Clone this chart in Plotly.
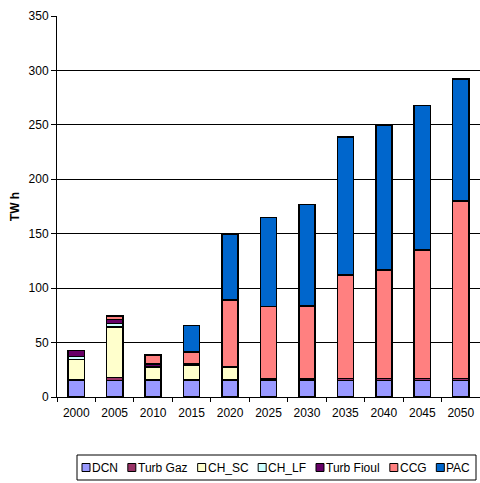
import plotly.graph_objects as go

years = ["2000", "2005", "2010", "2015", "2020", "2025", "2030", "2035", "2040", "2045", "2050"]
DCN = [15, 15, 15, 15, 15, 15, 15, 15, 15, 15, 15]
TURB_GAZ = [1, 3, 1, 0.5, 0.5, 1.5, 1.5, 2, 2, 2, 2]
CH_SC = [18.5, 46.5, 11, 14, 12, 0, 0, 0, 0, 0, 0]
CH_LF = [2.5, 3, 1, 0.5, 0, 0, 0, 0, 0, 0, 0]
TURB_FIOUL = [5.5, 3.5, 2.5, 0.5, 0, 0, 0, 0, 0, 0, 0]
CCG = [0, 3.5, 8, 11, 61.5, 66.5, 67, 95, 99.5, 118, 163]
PAC = [0, 0, 0, 24, 60.5, 82, 93.5, 127, 133, 133, 112]

names = ["DCN", "Turb Gaz", "CH_SC", "CH_LF", "Turb Fioul", "CCG", "PAC"]
values = [DCN, TURB_GAZ, CH_SC, CH_LF, TURB_FIOUL, CCG, PAC]
colors = ["#9999FF", "#993366", "#FFFFCC", "#CCFFFF", "#660066", "#FF8080", "#0066CC"]

W, H = 480, 483
ML, MR, MT, MB = 57, 0, 16, 86
PW = W - ML - MR
PH = H - MT - MB

fig = go.Figure()
for name, vals, col in zip(names, values, colors):
    fig.add_trace(go.Bar(
        x=years, y=vals, name=name, showlegend=False,
        marker=dict(color=col, line=dict(color="black", width=1.5)),
    ))

# ---- legend drawn as a boxed row (like the reference) ----
ARIAL = {"D": 722, "C": 722, "N": 722, "T": 611, "u": 556, "r": 333, "b": 556, " ": 278,
         "G": 778, "a": 556, "z": 500, "H": 722, "_": 556, "S": 667, "L": 556, "F": 611,
         "i": 222, "o": 556, "l": 222, "P": 667, "A": 667}
LFS = 12
def tw(s):
    return sum(ARIAL.get(c, 556) for c in s) * LFS / 1000.0

def px_x(px):
    return (px - ML) / PW
def px_y(py):
    return (H - MB - py) / PH

box_l, box_r, box_t, box_b = 77, 476, 455, 480
content_l, content_r = 82, 471
sq, sq_gap = 8, 2
total = sum(sq + sq_gap + tw(n) for n in names)
gap = (content_r - content_l - total) / (len(names) - 1)
shapes = [dict(type="rect", xref="paper", yref="paper",
               x0=px_x(box_l), x1=px_x(box_r), y0=px_y(box_b), y1=px_y(box_t),
               line=dict(color="black", width=1), fillcolor="white", layer="below")]
annotations = []
xc = content_l
ymid = (box_t + box_b) / 2
for n, col in zip(names, colors):
    shapes.append(dict(type="rect", xref="paper", yref="paper",
                       x0=px_x(xc), x1=px_x(xc + sq), y0=px_y(ymid + sq / 2), y1=px_y(ymid - sq / 2),
                       line=dict(color="black", width=1), fillcolor=col))
    annotations.append(dict(text=n, xref="paper", yref="paper", x=px_x(xc + sq + sq_gap),
                            y=px_y(ymid), xanchor="left", yanchor="middle", showarrow=False,
                            font=dict(size=LFS, color="black"), borderpad=0, xshift=-1))
    xc += sq + sq_gap + tw(n) + gap

fig.update_layout(
    barmode="stack",
    bargap=0.58,
    width=W, height=H,
    margin=dict(l=ML, r=MR, t=MT, b=MB),
    paper_bgcolor="white", plot_bgcolor="white",
    font=dict(family="Liberation Sans, Arial, sans-serif", size=12, color="black"),
    showlegend=False,
    shapes=shapes,
    annotations=annotations,
    xaxis=dict(
        automargin=False,
        showline=True, linecolor="black", linewidth=1,
        ticks="outside", tickson="boundaries", ticklen=4, tickcolor="black",
        ticklabelstandoff=5,
        showgrid=False,
    ),
    yaxis=dict(
        automargin=False,
        range=[0, 350], dtick=50,
        showline=True, linecolor="black", linewidth=1,
        ticks="outside", ticklen=5, tickcolor="black",
        showgrid=True, gridcolor="black", gridwidth=1,
        zeroline=False,
        title=dict(text="<b>TW h</b>", standoff=6, font=dict(size=12)),
    ),
)

fig.write_html("out.html", config={"displayModeBar": False},
               post_script="document.body.style.margin='0';document.body.style.overflow='hidden';")
